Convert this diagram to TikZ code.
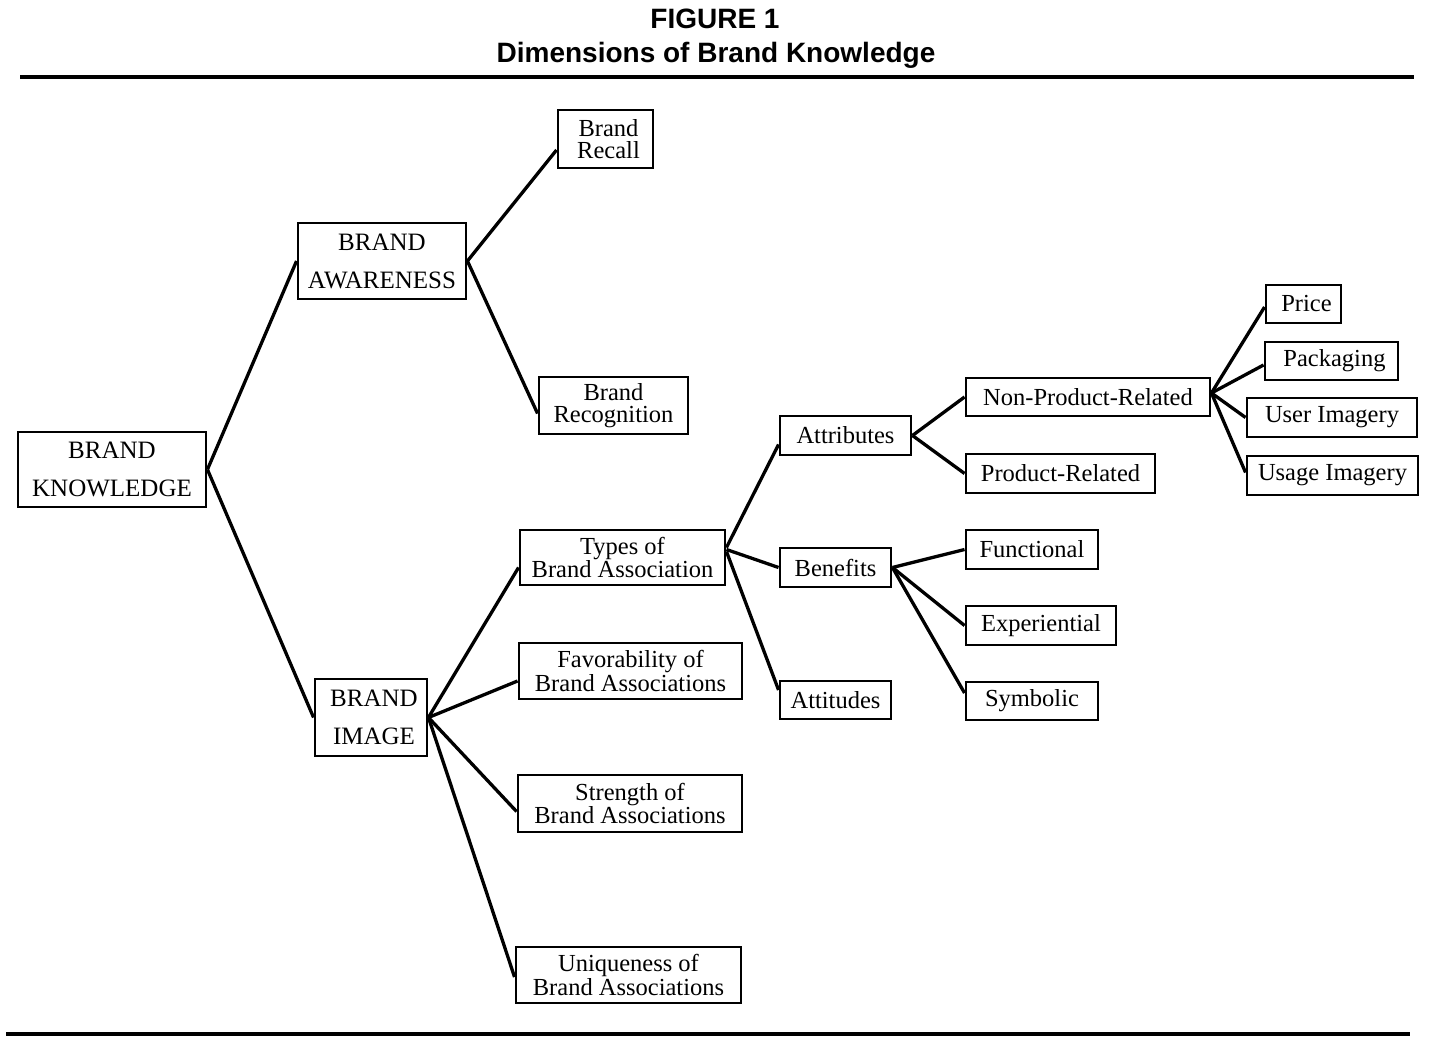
\documentclass[tikz,border=0pt]{standalone}
\usepackage{fontspec}
\setmainfont{Liberation Serif}
\newfontfamily\titlefont{Liberation Sans}
\begin{document}
\begin{tikzpicture}[x=1pt,y=-1pt,
  box/.style={draw, line width=2.9pt, inner sep=0pt, align=center,
    font=\fontsize{24.5}{20}\selectfont},
  loosebox/.style={box, font=\fontsize{24.5}{22.5}\selectfont},
  capbox/.style={box, font=\fontsize{25}{38}\selectfont},
  con/.style={line width=3.3pt},
  rule/.style={line width=3.2pt},
  title/.style={inner sep=0pt, font=\titlefont\bfseries\fontsize{28}{30}\selectfont}]
\useasboundingbox (0,0) rectangle (1430,1052);
% title and rules
\node[title] (t1) at (715,19) {FIGURE 1};
\node[title] (t2) at (716,55) {Dimensions of Brand Knowledge};
\coordinate (r1a) at (20,77); \coordinate (r1b) at (1414,77);
\coordinate (r2a) at (6,1034); \coordinate (r2b) at (1410,1034);
\draw[rule] (r1a) -- (r1b);
\draw[rule] (r2a) -- (r2b);
% level 0/1
\node[capbox, minimum width=188pt, minimum height=75pt] (bk) at (112,469.5) {BRAND\\KNOWLEDGE};
\node[capbox, minimum width=168pt, minimum height=76pt] (ba) at (382,261) {BRAND\\AWARENESS};
\node[capbox, minimum width=112pt, minimum height=77pt] (bi) at (371,717.5) {\hspace*{6pt}BRAND\\\hspace*{6pt}IMAGE};
% awareness children
\node[loosebox, minimum width=95pt, minimum height=58pt] (rc) at (605.5,139) {\hspace*{6pt}Brand\\\hspace*{6pt}Recall};
\node[loosebox, minimum width=149pt, minimum height=57pt] (rg) at (613.5,405.5) {Brand\\Recognition};
% image children
\node[box, minimum width=205pt, minimum height=55pt] (ty) at (622.5,557.5) {Types of\\Brand Association};
\node[box, minimum width=223pt, minimum height=56pt] (fa) at (630.5,671) {Favorability of\\Brand Associations};
\node[box, minimum width=224pt, minimum height=57pt] (st) at (630,803.5) {Strength of\\Brand Associations};
\node[box, minimum width=225pt, minimum height=56pt] (un) at (628.5,975) {Uniqueness of\\Brand Associations};
% types children
\node[box, minimum width=131pt, minimum height=39pt] (at) at (845.5,435.5) {Attributes};
\node[box, minimum width=111pt, minimum height=39pt] (be) at (835.5,567.5) {Benefits};
\node[box, minimum width=111pt, minimum height=38pt] (au) at (835.5,700) {Attitudes};
% attributes children
\node[box, minimum width=244pt, minimum height=38pt] (np) at (1088,397) {Non-Product-Related};
\node[box, minimum width=189pt, minimum height=39pt] (pr) at (1060.5,473.5) {Product-Related};
% benefits children
\node[box, minimum width=132pt, minimum height=39pt] (fu) at (1032,549.5) {Functional};
\node[box, minimum width=150pt, minimum height=39pt] (ex) at (1041,625.5) {Experiential};
\node[box, minimum width=132pt, minimum height=38pt] (sy) at (1032,701) {Symbolic};
% non-product children
\node[box, minimum width=75pt, minimum height=38pt] (pc) at (1303.5,304) {\hspace*{6pt}Price};
\node[box, minimum width=133pt, minimum height=38pt] (pk) at (1331.5,361) {\hspace*{6pt}Packaging};
\node[box, minimum width=170pt, minimum height=39pt] (ui) at (1332,417.5) {User Imagery};
\node[box, minimum width=171pt, minimum height=39pt] (us) at (1332.5,475.5) {Usage Imagery};
% connectors
\draw[con] (bk.east) -- (ba.west);
\draw[con] (bk.east) -- (bi.west);
\draw[con] (ba.east) -- ([yshift=-11pt]rc.west);
\draw[con] (ba.east) -- ([yshift=-8pt]rg.west);
\draw[con] (bi.east) -- ([yshift=-10pt]ty.west);
\draw[con] (bi.east) -- ([yshift=-10pt]fa.west);
\draw[con] (bi.east) -- ([yshift=-8pt]st.west);
\draw[con] (bi.east) -- ([yshift=-2pt]un.west);
\draw[con] ([yshift=10pt]ty.east) -- ([yshift=-9pt]at.west);
\draw[con] ([yshift=8pt]ty.east) -- (be.west);
\draw[con] ([yshift=6pt]ty.east) -- ([yshift=10pt]au.west);
\draw[con] (at.east) -- (np.west);
\draw[con] (at.east) -- (pr.west);
\draw[con] (be.east) -- (fu.west);
\draw[con] (be.east) -- (ex.west);
\draw[con] (be.east) -- ([yshift=8pt]sy.west);
\draw[con] ([yshift=4pt]np.east) -- ([yshift=-3pt]pc.west);
\draw[con] ([yshift=4pt]np.east) -- ([yshift=-4pt]pk.west);
\draw[con] ([yshift=4pt]np.east) -- (ui.west);
\draw[con] ([yshift=4pt]np.east) -- ([yshift=3pt]us.west);
\end{tikzpicture}
\end{document}
